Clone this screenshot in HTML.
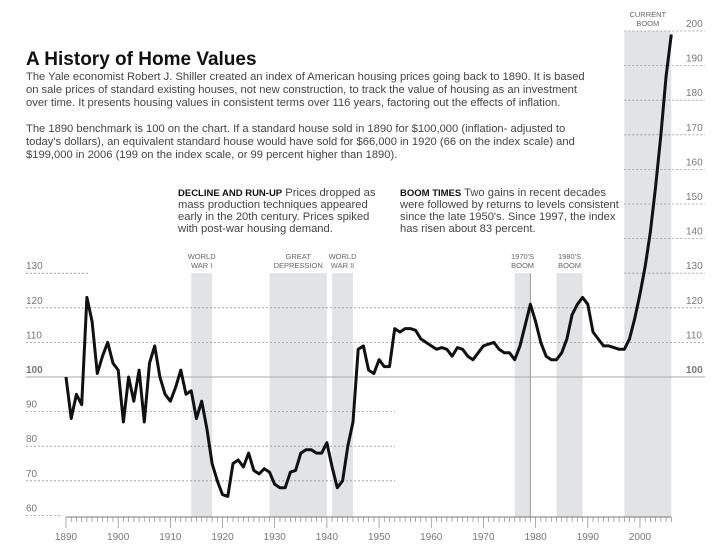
<!DOCTYPE html>
<html><head><meta charset="utf-8"><style>
body{margin:0;background:#fff;}
svg{display:block;font-family:"Liberation Sans",sans-serif;}
.p{font-size:11.2px;fill:#444;}
.lab{font-size:7.5px;fill:#666;}
.tick{font-size:10px;fill:#777;}
</style></head><body>
<svg width="728" height="546" viewBox="0 0 728 546">
<text x="26" y="65" font-size="19" font-weight="bold" fill="#111">A History of Home Values</text>
<g>
<text class="p" x="26" y="80">The Yale economist Robert J. Shiller created an index of American housing prices going back to 1890. It is based</text>
<text class="p" x="26" y="93">on sale prices of standard existing houses, not new construction, to track the value of housing as an investment</text>
<text class="p" x="26" y="106">over time. It presents housing values in consistent terms over 116 years, factoring out the effects of inflation.</text>
<text class="p" x="26" y="132">The 1890 benchmark is 100 on the chart. If a standard house sold in 1890 for $100,000 (inflation- adjusted to</text>
<text class="p" x="26" y="145">today's dollars), an equivalent standard house would have sold for $66,000 in 1920 (66 on the index scale) and</text>
<text class="p" x="26" y="158">$199,000 in 2006 (199 on the index scale, or 99 percent higher than 1890).</text>
</g>
<g>
<text class="p" x="178" y="196"><tspan font-weight="bold" fill="#111" font-size="9.5">DECLINE AND RUN-UP</tspan> Prices dropped as</text>
<text class="p" x="178" y="208">mass production techniques appeared</text>
<text class="p" x="178" y="220">early in the 20th century. Prices spiked</text>
<text class="p" x="178" y="232">with post-war housing demand.</text>
</g>
<g>
<text class="p" x="400" y="196"><tspan font-weight="bold" fill="#111" font-size="9.5">BOOM TIMES</tspan> Two gains in recent decades</text>
<text class="p" x="400" y="208">were followed by returns to levels consistent</text>
<text class="p" x="400" y="220">since the late 1950's. Since 1997, the index</text>
<text class="p" x="400" y="232">has risen about 83 percent.</text>
</g>
<g id="bands"></g>
<g id="grid"></g>
<g id="axis"></g>
<path id="line" fill="none" stroke="#111" stroke-width="3" stroke-linejoin="round"/>
</svg>
<script>
const years=[];for(let y=1890;y<=2006;y++)years.push(y);
const values=[100,88,95,92,123,116,101,106,110,104,102,87,100,93,102,87,104,109,100,95,93,97,102,95,96,88,93,85,75,70,66,65.5,75,76,74,78,73,72,73.5,72.5,69,68,68,72.5,73,78,79,79,78,78,81,74,68,70,80,87,108,109,102,101,105,103,103,114,113,114,114,113.5,111,110,109,108,108.5,108,106,108.5,108,106,105,107,109,109.5,110,108,107,107,105,109,115,121,116,110,106,105,105,107,111,118,121,123,121,113,111,109,109,108.5,108,108,111,117,124,132,142,155,170,187,199];
const bandNames=["WORLD|WAR I","GREAT|DEPRESSION","WORLD|WAR II","1970'S|BOOM","1980'S|BOOM","CURRENT|BOOM"];
const bandStart=[1914,1929,1941,1976,1984,1997];
const bandEnd=[1918,1940,1945,1979,1989,2006];
const xTicks=[1890,1900,1910,1920,1930,1940,1950,1960,1970,1980,1990,2000];
const yTicks=[60,70,80,90,100,110,120,130,140,150,160,170,180,190,200];
const NS="http://www.w3.org/2000/svg";
const X=y=>66+(y-1890)*5.218;
const Y=v=>377-(v-100)*3.46;
function mk(tag,attrs,parent,txt){const e=document.createElementNS(NS,tag);for(const k in attrs)e.setAttribute(k,attrs[k]);if(txt!=null)e.textContent=txt;document.getElementById(parent).appendChild(e);return e;}
bandNames.forEach((n,i)=>{
 const top=i==5?Y(200):Y(130);
 const r=mk('rect',{x:X(bandStart[i]),y:top,width:X(bandEnd[i])-X(bandStart[i]),height:517-top,fill:'#e1e3e5'},'bands');
 
 
 const parts=n.split('|');const cx=(X(bandStart[i])+X(bandEnd[i]))/2;
 parts.forEach((p,j)=>{const t=mk('text',{x:cx,y:top-14+j*9,'text-anchor':'middle',class:'lab'},'bands',p);
 
 });
});
const vl=mk('line',{x1:X(1979),x2:X(1979),y1:Y(130),y2:517,stroke:'#999','stroke-width':1},'bands');


yTicks.forEach(v=>{
 const y=Y(v);let x1=26,x2=705;
 if(v>=140){x1=X(1997);}
 else if(v==130){const a=mk('line',{x1:26,x2:90,y1:y,y2:y,stroke:'#999','stroke-dasharray':'2,2'},'grid');x1=X(1997);}
 else if(v>=70&&v<=90){x2=395;}
 else if(v==60){x2=62;}
 const g=mk('line',{x1:x1,x2:x2,y1:y,y2:y,stroke:v==100?'#aaa':'#999','stroke-dasharray':v==100?'none':'2,2','stroke-width':v==100?1:0.8},'grid');
 
 
 if(v<=130){const t=mk('text',{x:26,y:y-4,class:'tick','font-weight':v==100?'bold':'normal',fill:v==100?'#222':'#777'},'grid',v);
 
 }
 if(v>=100){const t=mk('text',{x:686,y:y-4,class:'tick','font-weight':v==100?'bold':'normal',fill:v==100?'#222':'#777'},'grid',v);
 
 }
});
const ax=mk('line',{x1:X(1890),x2:X(2006),y1:517,y2:517,stroke:'#777'},'axis');


years.forEach(y=>{const tk=mk('line',{x1:X(y),x2:X(y),y1:517,y2:y%10==0?528:522,stroke:'#888','stroke-width':0.7},'axis');

});
xTicks.forEach(y=>{const t=mk('text',{x:X(y),y:540,'text-anchor':'middle',class:'tick'},'axis',y);

});
document.getElementById('line').setAttribute('d',values.map((v,i)=>(i?'L':'M')+X(years[i]).toFixed(1)+','+Y(v).toFixed(1)).join(''));
</script>
</body></html>
